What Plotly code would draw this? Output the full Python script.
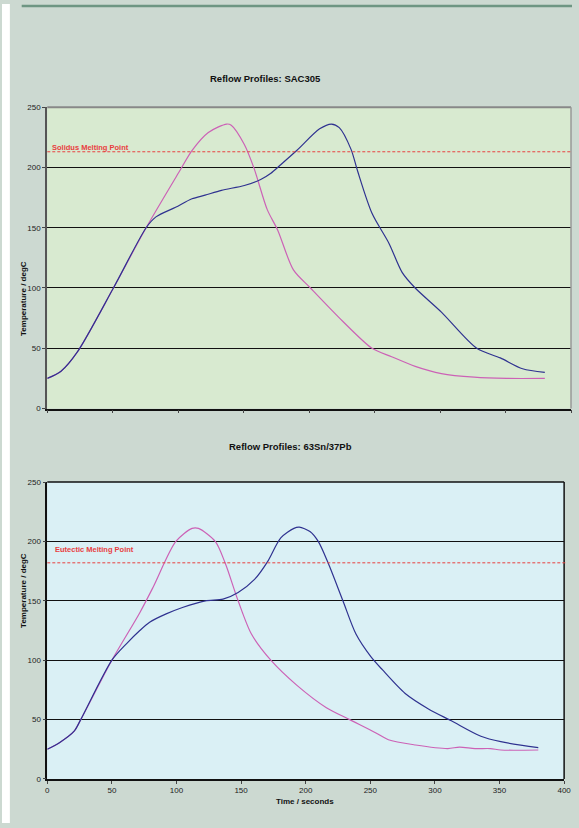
import plotly.graph_objects as go

# ---- data ----
sac_blue_t = [0, 10.5, 23, 50.5, 75.5, 83, 98, 110.5, 120.5, 133, 150.5, 163, 170.5, 178, 190.5, 208, 217, 223, 232, 237, 248, 261, 271, 281, 301, 328, 346, 363, 380]
sac_blue_T = [25, 31, 47, 100, 150, 159, 167, 174, 177, 181, 185, 190, 195, 202, 214, 232, 236, 233, 215, 197, 162, 137, 113, 100, 80, 50, 42, 33, 30]
sac_pink_t = [0, 10.5, 23, 50.5, 75.5, 100.5, 110.5, 123, 137, 140.5, 150.5, 158, 168, 176, 188, 201, 226, 248, 263, 281, 301, 326, 351, 380]
sac_pink_T = [25, 31, 47, 100, 150, 196, 214, 229, 236, 235, 219, 199, 165, 148, 115, 100, 72, 50, 43, 35, 29, 26, 25, 25]

sn_pink_t = [0, 9.4, 20.8, 25.9, 50, 71.6, 81.7, 99.5, 112, 117, 130, 137.6, 147.7, 158, 173, 193, 216, 234, 254, 264, 285, 310, 319, 331, 343, 351, 380]
sn_pink_T = [25, 30.6, 40.3, 50, 100, 140, 161, 200, 211, 211, 200, 182, 150, 122, 100, 79, 60, 50, 39, 33, 28.6, 25.6, 26.9, 25.6, 25.6, 24.4, 24.4]
sn_blue_t = [0, 9.4, 20.8, 25.9, 50, 61.4, 71.6, 79.2, 92, 104.6, 122.3, 136, 147.7, 160.4, 170.5, 180.7, 190.9, 195, 203.3, 209.7, 217.3, 228.8, 238.9, 250.4, 259.3, 277, 295, 312.7, 335.6, 351, 380]
sn_blue_T = [25, 30.6, 40.3, 50, 100, 114, 125, 132, 139, 144.4, 150, 151.4, 157, 168, 183, 203, 211, 212, 208.3, 200, 182, 150, 122, 103, 92, 72, 59, 49, 36, 31.4, 26.4]

solidus_T = 213
eutectic_T = 182
x_ticks = [0, 50, 100, 150, 200, 250, 300, 350, 400]
y_ticks = [0, 50, 100, 150, 200, 250]

W, H = 579, 828
PINK = "#CC62B6"
BLUE = "#2F3290"
RED = "#E8403F"
FONT = "Liberation Sans, Arial, sans-serif"

def py(p):  # pixel y -> paper
    return 1 - p / H

def px(p):
    return p / W

fig = go.Figure()
fig.add_trace(go.Scatter(x=sac_pink_t, y=sac_pink_T, mode="lines", line=dict(color=PINK, width=1.2, shape="spline", smoothing=0.8), xaxis="x", yaxis="y", showlegend=False))
fig.add_trace(go.Scatter(x=sac_blue_t, y=sac_blue_T, mode="lines", line=dict(color=BLUE, width=1.2, shape="spline", smoothing=0.8), xaxis="x", yaxis="y", showlegend=False))
fig.add_trace(go.Scatter(x=sn_pink_t, y=sn_pink_T, mode="lines", line=dict(color=PINK, width=1.2, shape="spline", smoothing=0.8), xaxis="x2", yaxis="y2", showlegend=False))
fig.add_trace(go.Scatter(x=sn_blue_t, y=sn_blue_T, mode="lines", line=dict(color=BLUE, width=1.2, shape="spline", smoothing=0.8), xaxis="x2", yaxis="y2", showlegend=False))

tickfont = dict(family=FONT, size=8, color="#222222")

fig.update_layout(
    width=W, height=H,
    margin=dict(l=0, r=0, t=0, b=0),
    paper_bgcolor="#CCD9D1",
    plot_bgcolor="rgba(0,0,0,0)",
    xaxis=dict(domain=[px(46), px(578)], range=[0, 400], tickvals=x_ticks, showticklabels=False,
               ticks="outside", ticklen=3, tickcolor="#444", showgrid=False, zeroline=False,
               showline=True, linecolor="#111111", linewidth=1.5, anchor="y", fixedrange=True),
    yaxis=dict(domain=[py(409), py(104.3)], range=[0, 250], tickvals=y_ticks, ticks="outside", ticklen=3,
               tickcolor="#444", tickfont=tickfont, showgrid=True, gridcolor="#111111", gridwidth=1.2,
               zeroline=False, showline=True, linecolor="#555555", linewidth=2, anchor="x"),
    xaxis2=dict(domain=[px(46), px(571)], range=[0, 400], tickvals=x_ticks, ticks="outside", ticklen=3,
                tickcolor="#444", tickfont=tickfont, showgrid=False, zeroline=False,
                showline=True, linecolor="#111111", linewidth=1.5, anchor="y2"),
    yaxis2=dict(domain=[py(783.5), py(483.3)], range=[0, 250], tickvals=y_ticks, ticks="outside", ticklen=3,
                tickcolor="#444", tickfont=tickfont, showgrid=True, gridcolor="#111111", gridwidth=1.2,
                zeroline=False, showline=True, linecolor="#111111", linewidth=1.5, anchor="x2"),
)

shapes = [
    # white strip on the left
    dict(type="rect", xref="paper", yref="paper", x0=0, x1=px(8), y0=0, y1=1, fillcolor="white", line=dict(width=0), layer="below"),
    # banner line
    dict(type="line", xref="paper", yref="paper", x0=px(20), x1=1, y0=py(2), y1=py(2), line=dict(color="#6E9683", width=2.5)),
    # plot backgrounds
    dict(type="rect", xref="x domain", yref="y domain", x0=0, x1=1, y0=0, y1=1, fillcolor="#D8EAD0", line=dict(width=0), layer="below"),
    dict(type="rect", xref="x2 domain", yref="y2 domain", x0=0, x1=1, y0=0, y1=1, fillcolor="#DAF0F5", line=dict(width=0), layer="below"),
    # top chart top/right borders (grey)
    dict(type="line", xref="x domain", yref="y domain", x0=0, x1=1, y0=1, y1=1, line=dict(color="#888888", width=2)),
    dict(type="line", xref="x domain", yref="y domain", x0=1, x1=1, y0=0, y1=1, line=dict(color="#999999", width=1.5)),
    # bottom chart top/right borders (black)
    dict(type="line", xref="x2 domain", yref="y2 domain", x0=0, x1=1, y0=1, y1=1, line=dict(color="#111111", width=1.5)),
    dict(type="line", xref="x2 domain", yref="y2 domain", x0=1, x1=1, y0=0, y1=1, line=dict(color="#111111", width=1.5)),
    # melting point lines
    dict(type="line", xref="x domain", yref="y", x0=0, x1=1, y0=solidus_T, y1=solidus_T, line=dict(color=RED, width=1, dash="3px,2px")),
    dict(type="line", xref="x2 domain", yref="y2", x0=0, x1=1.005, y0=eutectic_T, y1=eutectic_T, line=dict(color=RED, width=1, dash="3px,2px")),
]
fig.update_layout(shapes=shapes)

bold = lambda s: "<b>" + s + "</b>"
annotations = [
    dict(text=bold("Reflow Profiles: SAC305"), x=px(268), y=py(68), xref="paper", yref="paper", showarrow=False,
         font=dict(family=FONT, size=9.5, color="#111")),
    dict(text=bold("Reflow Profiles: 63Sn/37Pb"), x=px(293), y=py(447), xref="paper", yref="paper", showarrow=False,
         font=dict(family=FONT, size=9.5, color="#111")),
    dict(text=bold("Temperature / degC"), x=px(15), y=py(258), xref="paper", yref="paper", showarrow=False, textangle=-90,
         font=dict(family=FONT, size=8, color="#111")),
    dict(text=bold("Temperature / degC"), x=px(15), y=py(633), xref="paper", yref="paper", showarrow=False, textangle=-90,
         font=dict(family=FONT, size=8, color="#111")),
    dict(text=bold("Time / seconds"), x=px(308), y=py(813), xref="paper", yref="paper", showarrow=False,
         font=dict(family=FONT, size=8, color="#111")),
    dict(text=bold("Solidus Melting Point"), x=px(49), y=py(138.5), xref="paper", yref="paper", xanchor="left", showarrow=False,
         font=dict(family=FONT, size=7.5, color=RED)),
    dict(text=bold("Eutectic Melting Point"), x=px(52), y=py(558.5), xref="paper", yref="paper", xanchor="left", showarrow=False,
         font=dict(family=FONT, size=7.5, color=RED)),
]
fig.update_layout(annotations=annotations)

fig.write_html("out.html", config={"displayModeBar": False},
               post_script="document.body.style.margin='0';document.body.style.padding='0';document.body.style.overflow='hidden';")
